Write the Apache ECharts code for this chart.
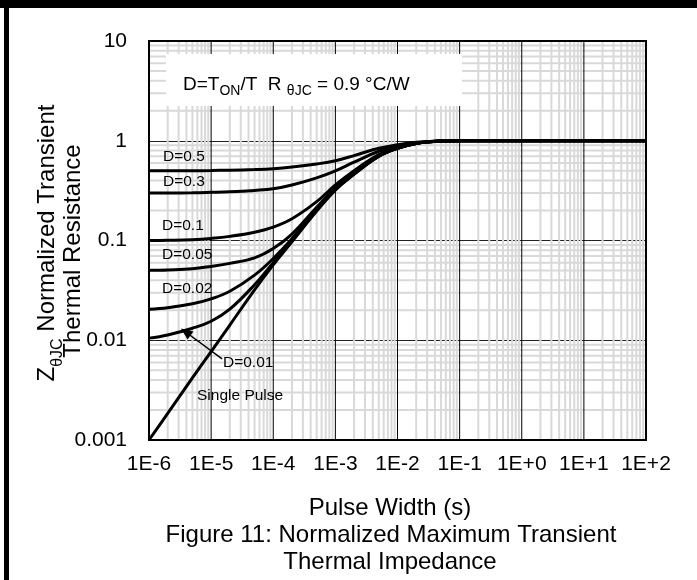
<!DOCTYPE html>
<html>
<head>
<meta charset="utf-8">
<script src="https://cdn.jsdelivr.net/npm/echarts@6/dist/echarts.min.js"></script>
<style>
  html, body { margin: 0; padding: 0; background: #fff; }
  #chart { width: 697px; height: 580px; }
</style>
</head>
<body>
<div id="chart"></div>
<script>
// Pulse widths (s) at which each curve is sampled
const pulseWidths = [1e-6, 2e-6, 5e-6, 1e-5, 2e-5, 5e-5, 1e-4, 2e-4, 5e-4, 1e-3, 2e-3, 5e-3, 1e-2, 2e-2, 5e-2, 1e-1, 1, 10, 100];

// Normalized transient thermal resistance for each duty cycle
const zD05  = [0.5,    0.5,    0.501,  0.503, 0.507, 0.515, 0.525, 0.545, 0.585, 0.63,  0.71,  0.84,  0.91,  0.965, 0.997, 1, 1, 1, 1];
const zD03  = [0.3,    0.3,    0.301,  0.304, 0.308, 0.318, 0.33,  0.36,  0.425, 0.50,  0.61,  0.785, 0.88,  0.955, 0.995, 1, 1, 1, 1];
const zD01  = [0.1,    0.1005, 0.102,  0.105, 0.11,  0.121, 0.136, 0.165, 0.245, 0.36,  0.50,  0.725, 0.85,  0.945, 0.993, 1, 1, 1, 1];
const zD005 = [0.0502, 0.0507, 0.052,  0.055, 0.059, 0.067, 0.083, 0.116, 0.215, 0.335, 0.478, 0.712, 0.845, 0.94,  0.992, 1, 1, 1, 1];
const zD002 = [0.0205, 0.0212, 0.0232, 0.026, 0.031, 0.045, 0.066, 0.104, 0.205, 0.328, 0.47,  0.705, 0.84,  0.94,  0.992, 1, 1, 1, 1];
const zD001 = [0.0105, 0.0113, 0.0132, 0.0155, 0.0205, 0.036, 0.06, 0.1,   0.2,   0.324, 0.465, 0.70,  0.84,  0.94,  0.992, 1, 1, 1, 1];
const zSingle = [0.001, 0.00185, 0.0042, 0.0077, 0.0142, 0.032, 0.057, 0.097, 0.197, 0.32,  0.46,  0.695, 0.838, 0.938, 0.992, 1, 1, 1, 1];

const curveNames = ['D=0.5', 'D=0.3', 'D=0.1', 'D=0.05', 'D=0.02', 'D=0.01', 'Single Pulse'];
const curveValues = [zD05, zD03, zD01, zD005, zD002, zD001, zSingle];

// Axis tick labels, one per decade
const xTickLabels = ['1E-6', '1E-5', '1E-4', '1E-3', '1E-2', '1E-1', '1E+0', '1E+1', '1E+2'];
const yTickLabels = ['0.001', '0.01', '0.1', '1', '10'];

const X_MIN = 1e-6, X_MAX = 100, Y_MIN = 0.001, Y_MAX = 10;
const FONT = "'Liberation Sans', Arial, Helvetica, sans-serif";

const series = curveNames.map(function (name, i) {
  return {
    name: name,
    type: 'line',
    z: 5,
    smooth: 0.4,
    showSymbol: false,
    symbol: 'none',
    animation: false,
    lineStyle: { color: '#000', width: 3 },
    data: pulseWidths.map(function (t, j) { return [t, curveValues[i][j]]; })
  };
});

// Leader arrow pointing at the D=0.01 curve
series.push({
  type: 'line', data: [], z: 6, silent: true, animation: false,
  markLine: {
    silent: true, animation: false,
    symbol: ['none', 'triangle'], symbolSize: [10, 12],
    label: { show: false },
    lineStyle: { color: '#000', width: 1.5, type: 'solid' },
    data: [[{ coord: [1.5e-5, 0.0065] }, { coord: [3.9e-6, 0.0121] }]]
  }
});

const chart = echarts.init(document.getElementById('chart'), null, { renderer: 'canvas' });

function decadeIndex(v, offset) {
  return Math.round(Math.log10(v)) + offset;
}

function txt(x, y, text, size, extra) {
  const style = Object.assign({ text: text, font: size + 'px ' + FONT, fill: '#000', textVerticalAlign: 'middle' }, extra || {});
  return { type: 'text', x: x, y: y, z: 11, silent: true, style: style };
}

const decor = [
  // figure frame
  { type: 'rect', shape: { x: 0, y: 0, width: 697, height: 8 }, style: { fill: '#000' }, z: 20 },
  { type: 'rect', shape: { x: 4, y: 0, width: 5, height: 580 }, style: { fill: '#000' }, z: 20 },
  // duty-cycle definition box
  { type: 'rect', shape: { x: 166, y: 54, width: 296, height: 52 }, style: { fill: '#fff' }, z: 10 },
  {
    type: 'text', x: 183, y: 85, z: 11,
    style: {
      text: '{n|D=T}{s|ON}{n|/T  R }{s|θJC}{n| = 0.9 °C/W}',
      textVerticalAlign: 'middle',
      rich: {
        n: { fontSize: 19, fontFamily: FONT, fill: '#000', lineHeight: 26 },
        s: { fontSize: 14, fontFamily: FONT, fill: '#000', verticalAlign: 'bottom' }
      }
    }
  },
  // curve labels
  txt(163, 157, 'D=0.5', 15.5),
  txt(163, 182, 'D=0.3', 15.5),
  txt(162, 226, 'D=0.1', 15.5),
  txt(162, 255, 'D=0.05', 15.5),
  txt(162, 289, 'D=0.02', 15.5),
  txt(223, 363, 'D=0.01', 15.5),
  txt(197, 396, 'Single Pulse', 15.5),
  // y axis title (two lines)
  {
    type: 'text', x: 47, y: 243, rotation: Math.PI / 2, z: 11,
    style: {
      text: '{n|Z}{s|θJC}{n| Normalized Transient}',
      textAlign: 'center', textVerticalAlign: 'middle',
      rich: {
        n: { fontSize: 24, fontFamily: FONT, fill: '#000', lineHeight: 38 },
        s: { fontSize: 16, fontFamily: FONT, fill: '#000', verticalAlign: 'bottom' }
      }
    }
  },
  Object.assign(txt(73, 251, 'Thermal Resistance', 24, { textAlign: 'center' }), { rotation: Math.PI / 2 }),
  // x axis title and figure caption
  txt(390, 508, 'Pulse Width (s)', 24, { textAlign: 'center' }),
  txt(391, 535, 'Figure 11: Normalized Maximum Transient', 24, { textAlign: 'center' }),
  txt(390, 562, 'Thermal Impedance', 24, { textAlign: 'center' })
];

const option = {
  backgroundColor: '#fff',
  animation: false,
  grid: {
    left: 149, right: 51, top: 41, bottom: 140,
    show: true, borderColor: '#000', borderWidth: 2, backgroundColor: 'transparent', z: 3
  },
  xAxis: {
    type: 'log', logBase: 10, min: X_MIN, max: X_MAX, interval: 1,
    axisLine: { show: false }, axisTick: { show: false },
    splitLine: { show: false },
    axisLabel: {
      margin: 14, color: '#000', fontSize: 21, fontFamily: FONT,
      formatter: function (v) { return xTickLabels[decadeIndex(v, 6)] || ''; }
    }
  },
  yAxis: {
    type: 'log', logBase: 10, min: Y_MIN, max: Y_MAX, interval: 1,
    axisLine: { show: false }, axisTick: { show: false },
    splitLine: { show: true, lineStyle: { color: '#222', width: 1 } },
    axisLabel: {
      margin: 22, color: '#000', fontSize: 21, fontFamily: FONT,
      formatter: function (v) { return yTickLabels[decadeIndex(v, 3)] || ''; }
    }
  },
  series: series,
  graphic: decor
};

chart.setOption(option);

// Log-decade gridlines, placed through the axes' own scales
const grid = [];
const x0 = chart.convertToPixel({ gridIndex: 0 }, [X_MIN, Y_MIN]);
const x1 = chart.convertToPixel({ gridIndex: 0 }, [X_MAX, Y_MAX]);
function vline(v, color, width, z) {
  const px = chart.convertToPixel({ xAxisIndex: 0 }, v);
  grid.push({ type: 'line', silent: true, z: z, shape: { x1: px, y1: x1[1], x2: px, y2: x0[1] }, style: { stroke: color, lineWidth: width } });
}
function hline(v, color, width, z) {
  const py = chart.convertToPixel({ yAxisIndex: 0 }, v);
  grid.push({ type: 'line', silent: true, z: z, shape: { x1: x0[0], y1: py, x2: x1[0], y2: py }, style: { stroke: color, lineWidth: width } });
}
for (let k = -3; k <= 0; k++) {
  for (let m = 2; m <= 9; m++) hline(m * Math.pow(10, k), '#d9d9d9', 2, 1);
}
for (let k = -6; k <= 1; k++) {
  for (let m = 2; m <= 9; m++) vline(m * Math.pow(10, k), '#d9d9d9', 2, 1.5);
}
for (let k = -5; k <= 1; k++) vline(Math.pow(10, k), '#000', 1, 1.8);

chart.setOption({ graphic: decor.concat(grid) }, { replaceMerge: ['graphic'] });
</script>
</body>
</html>
